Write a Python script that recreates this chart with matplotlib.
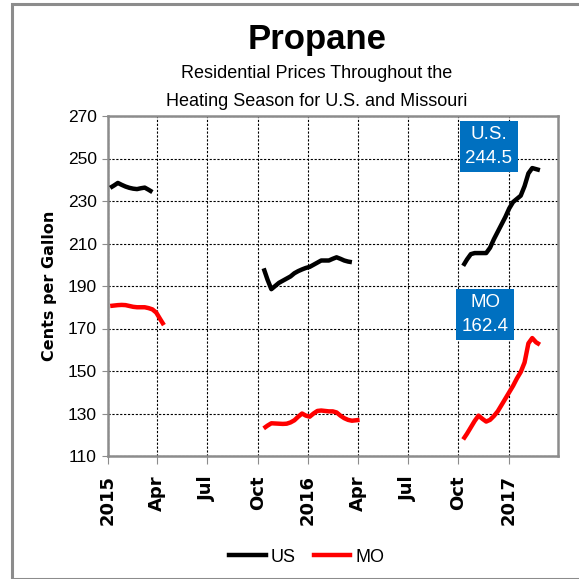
import numpy as np
import pandas as pd
import matplotlib
matplotlib.use("Agg")
import matplotlib.pyplot as plt
from matplotlib import font_manager
from matplotlib.patches import Rectangle
from matplotlib.lines import Line2D

# weekly residential propane prices, cents per gallon
us_2015_start = "2015-01-05"
us_2015 = [236.2, 237.3, 238.5, 237.6, 236.8, 236.2, 235.8, 235.6, 236.0, 236.3, 235.3, 234.2]
mo_2015_start = "2015-01-05"
mo_2015 = [180.6, 180.8, 181.0, 181.1, 181.0, 180.6, 180.2, 180.0, 180.0, 180.0, 179.6, 179.0, 177.5, 174.5, 171.6]

us_2016_start = "2015-10-12"
us_2016 = [198.3, 193.0, 188.5, 190.0, 191.5, 192.5, 193.5, 194.5, 196.0, 197.0, 197.8, 198.5,
           199.0, 200.0, 201.0, 202.0, 202.0, 202.0, 202.8, 203.5, 202.8, 202.0, 201.5, 201.2]
mo_2016_start = "2015-10-12"
mo_2016 = [123.0, 124.3, 125.4, 125.3, 125.2, 125.1, 125.2, 125.8, 126.8, 128.5, 130.0, 129.0,
           128.5, 130.0, 131.2, 131.4, 131.2, 131.0, 131.0, 130.5, 129.0, 127.8, 127.0, 126.6, 126.8, 127.0]

us_2017_start = "2016-10-10"
us_2017 = [199.5, 202.5, 205.0, 205.5, 205.5, 205.5, 205.5, 208.0, 212.0, 215.5, 219.0,
           222.5, 226.5, 229.5, 231.0, 232.5, 237.0, 243.0, 245.5, 245.0, 244.5]
mo_2017_start = "2016-10-10"
mo_2017 = [117.8, 120.5, 123.5, 126.5, 129.0, 127.5, 126.2, 127.0, 128.8, 131.0, 134.0,
           137.0, 140.0, 143.0, 146.5, 149.5, 154.0, 163.0, 165.5, 163.5, 162.4]

tick_dates = ["2015-01-01", "2015-04-01", "2015-07-01", "2015-10-01", "2016-01-01",
              "2016-04-01", "2016-07-01", "2016-10-01", "2017-01-01"]
tick_labels = ["2015", "Apr", "Jul", "Oct", "2016", "Apr", "Jul", "Oct", "2017"]

installed = {f.name for f in font_manager.fontManager.ttflist}
narrow = "Liberation Sans Narrow" if "Liberation Sans Narrow" in installed else "Liberation Sans"


def weekly(start, vals):
    return pd.date_range(start, periods=len(vals), freq="7D")


fig = plt.figure(figsize=(5.79, 5.79), dpi=100)
W, H = 579, 579

# outer frame
fig.patches.append(Rectangle((12 / W, 0), 1.2, (H - 4) / H, transform=fig.transFigure,
                             fill=False, edgecolor="#8c8c8c", linewidth=2.2))

ax = fig.add_axes([108 / W, 1 - 456 / H, 450 / W, 340 / H])

for start, vals in [(us_2015_start, us_2015), (us_2016_start, us_2016), (us_2017_start, us_2017)]:
    ax.plot(weekly(start, vals), vals, color="black", linewidth=3.2, solid_capstyle="butt", zorder=3)
for start, vals in [(mo_2015_start, mo_2015), (mo_2016_start, mo_2016), (mo_2017_start, mo_2017)]:
    ax.plot(weekly(start, vals), vals, color="#ff0000", linewidth=3.2, solid_capstyle="butt", zorder=3)

ax.set_xlim(pd.Timestamp("2015-01-01"), pd.Timestamp("2017-04-01"))
ax.set_ylim(110, 270)
ax.set_yticks(np.arange(110, 271, 20))
ax.set_xticks(pd.to_datetime(tick_dates))
ax.set_xticklabels(tick_labels, rotation=90, fontsize=13, fontweight="bold", family="DejaVu Sans")
ax.set_yticklabels([str(v) for v in range(110, 271, 20)], fontsize=12.5, family=narrow)

ax.grid(True, color="black", linestyle=(0, (2, 1.5)), linewidth=0.8)
ax.set_axisbelow(True)
for s in ax.spines.values():
    s.set_color("#8c8c8c")
    s.set_linewidth(1.8)
ax.tick_params(axis="x", length=6, color="#8c8c8c", pad=8)
ax.tick_params(axis="y", length=4, color="#8c8c8c", pad=4)

ax.set_ylabel("Cents per Gallon", fontsize=11.5, fontweight="bold", family="DejaVu Sans", labelpad=8)

# titles
fig.text(317 / W, 1 - 40 / H, "Propane", ha="center", va="center", fontsize=25, fontweight="bold", family=narrow)
fig.text(317 / W, 1 - 73 / H, "Residential Prices Throughout the", ha="center", va="center",
         fontsize=13, family=narrow)
fig.text(317 / W, 1 - 101 / H, "Heating Season for U.S. and Missouri", ha="center", va="center",
         fontsize=13, family=narrow)

# value call-outs
box = dict(boxstyle="square,pad=0.3", facecolor="#0070c0", edgecolor="none")
ax.text(pd.Timestamp("2016-11-26"), 255.6, "U.S.\n244.5", ha="center", va="center", color="white",
        fontsize=13.5, family="Liberation Sans", linespacing=1.5, bbox=box, zorder=5)
ax.text(pd.Timestamp("2016-11-19"), 176.6, "MO\n162.4", ha="center", va="center", color="white",
        fontsize=13.5, family="Liberation Sans", linespacing=1.5, bbox=box, zorder=5)

handles = [Line2D([], [], color="black", linewidth=3.2), Line2D([], [], color="#ff0000", linewidth=3.2)]
fig.legend(handles, ["US", "MO"], loc="center", bbox_to_anchor=(307 / W, 1 - 557 / H), ncol=2,
           frameon=False, prop={"family": narrow, "size": 13}, handlelength=2.0,
           handletextpad=0.3, columnspacing=1.0)

fig.savefig("out.png", dpi=100)
